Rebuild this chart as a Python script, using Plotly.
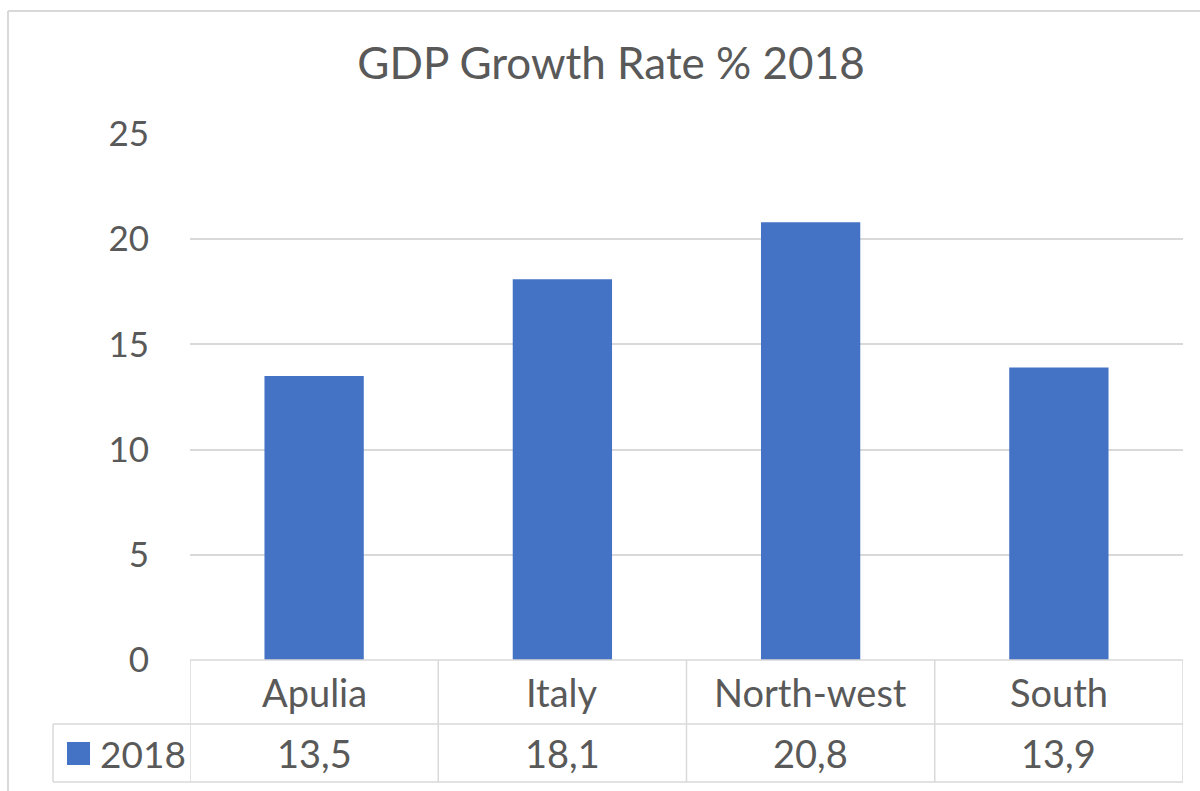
import plotly.graph_objects as go

# Data
regions = ["Apulia", "Italy", "North-west", "South"]
gdp_2018 = [13.5, 18.1, 20.8, 13.9]
series_name = "2018"
y_ticks = [0, 5, 10, 15, 20, 25]

BAR_COLOR = "#4472C4"
TEXT_COLOR = "#595959"
LINE_COLOR = "#D9D9D9"
FONT = "Lato, Calibri, sans-serif"

W, H = 1200, 791
ML, MR, MT, MB = 190, 17, 134, 131
plot_w = W - ML - MR
plot_h = H - MT - MB


def px_x(px):
    return (px - ML) / plot_w


def px_y(py):
    return (H - MB - py) / plot_h


fig = go.Figure()
fig.add_trace(go.Bar(
    x=regions,
    y=gdp_2018,
    name=series_name,
    marker=dict(color=BAR_COLOR, line=dict(width=0)),
    hoverinfo="x+y",
))

fig.update_layout(
    width=W,
    height=H,
    margin=dict(l=ML, r=MR, t=MT, b=MB, pad=0),
    paper_bgcolor="white",
    plot_bgcolor="white",
    showlegend=False,
    bargap=0.6,
    font=dict(family=FONT, color=TEXT_COLOR),
    title=dict(
        text="GDP Growth Rate % 2018",
        x=611 / W, xanchor="center",
        y=1 - 64 / H, yanchor="middle",
        font=dict(size=44, color=TEXT_COLOR, family=FONT),
    ),
    xaxis=dict(
        showticklabels=False,
        showgrid=False,
        zeroline=False,
        showline=False,
        ticks="",
        range=[-0.5, len(regions) - 0.5],
    ),
    yaxis=dict(
        range=[0, 25],
        tickvals=y_ticks,
        ticktext=[str(t) for t in y_ticks],
        showgrid=True,
        gridcolor=LINE_COLOR,
        gridwidth=1.5,
        zeroline=False,
        showline=False,
        ticks="",
        ticklabelstandoff=40,
        tickfont=dict(size=35, color=TEXT_COLOR, family=FONT),
    ),
)

shapes = []
line = dict(color=LINE_COLOR, width=1.5)

# Outer chart border (left and top edges)
shapes.append(dict(type="line", xref="paper", yref="paper",
                   x0=px_x(8), x1=px_x(8), y0=px_y(11), y1=px_y(H + 5), line=dict(color=LINE_COLOR, width=2)))
shapes.append(dict(type="line", xref="paper", yref="paper",
                   x0=px_x(8), x1=px_x(W + 5), y0=px_y(11), y1=px_y(11), line=dict(color=LINE_COLOR, width=2)))

# Data table grid
row_top, row_mid, row_bot = 660, 724, 782
shapes.append(dict(type="line", xref="paper", yref="paper",
                   x0=0, x1=1, y0=px_y(row_top), y1=px_y(row_top), line=line))
for yy in (row_mid, row_bot):
    shapes.append(dict(type="line", xref="paper", yref="paper",
                       x0=px_x(53), x1=1, y0=px_y(yy), y1=px_y(yy), line=line))
shapes.append(dict(type="line", xref="paper", yref="paper",
                   x0=px_x(53), x1=px_x(53), y0=px_y(row_mid), y1=px_y(row_bot), line=line))
for i in range(len(regions) + 1):
    shapes.append(dict(type="line", xref="x", yref="paper",
                       x0=i - 0.5, x1=i - 0.5, y0=px_y(row_top), y1=px_y(row_bot), line=line))

# Legend key square
shapes.append(dict(type="rect", xref="paper", yref="paper",
                   x0=px_x(67), x1=px_x(90), y0=px_y(765), y1=px_y(742),
                   fillcolor=BAR_COLOR, line=dict(width=0)))

annotations = []
for r, v in zip(regions, gdp_2018):
    annotations.append(dict(x=r, xref="x", y=px_y(692), yref="paper", text=r,
                            showarrow=False, xanchor="center", yanchor="middle",
                            font=dict(size=38, color=TEXT_COLOR, family=FONT)))
    annotations.append(dict(x=r, xref="x", y=px_y(753), yref="paper",
                            text=f"{v:.1f}".replace(".", ","),
                            showarrow=False, xanchor="center", yanchor="middle",
                            font=dict(size=38, color=TEXT_COLOR, family=FONT)))
annotations.append(dict(x=px_x(98), xref="paper", y=px_y(753), yref="paper", text=series_name,
                        showarrow=False, xanchor="left", yanchor="middle",
                        font=dict(size=37, color=TEXT_COLOR, family=FONT)))

fig.update_layout(shapes=shapes, annotations=annotations)

fig.write_html("out.html")
